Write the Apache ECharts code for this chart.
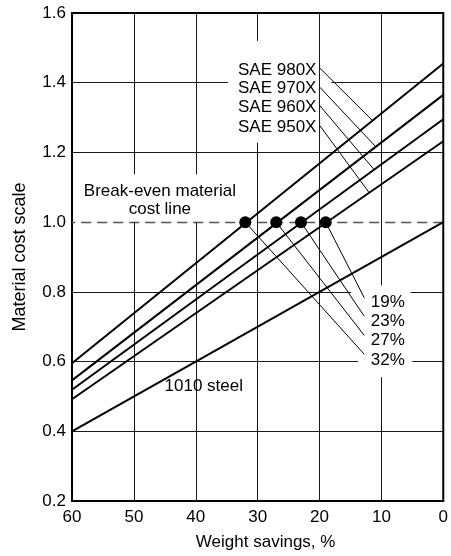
<!DOCTYPE html>
<html><head><meta charset="utf-8">
<script src="https://cdn.jsdelivr.net/npm/echarts@6/dist/echarts.min.js"></script>
<style>html,body{margin:0;padding:0;background:#fff}#c{width:451px;height:556px}</style>
</head><body><div id="c"></div>
<script>
// ---- data ----
const savings = [60, 0];                 // weight savings, % (line endpoints)
const sae980x = [0.595, 1.455];
const sae970x = [0.546, 1.365];
const sae960x = [0.519, 1.295];
const sae950x = [0.492, 1.232];
const steel1010 = [0.40, 1.00];
const breakEvenSavings = [32, 27, 23, 19];
const breakEvenCost = 1.0;
const xTicks = [60, 50, 40, 30, 20, 10, 0];
const yTicks = [0.2, 0.4, 0.6, 0.8, 1.0, 1.2, 1.4, 1.6];

const FONT = '"Liberation Sans", Arial, Helvetica, sans-serif';
const FS = 17;

function pairs(vals) { return savings.map((s, i) => [s, vals[i]]); }
function lineAt(vals, x) {
  const t = (x - savings[0]) / (savings[1] - savings[0]);
  return vals[0] + t * (vals[1] - vals[0]);
}

// grid lines with the gaps seen in the reference (data coords)
const vGrid = [
  { x: 50, segs: [[0.2, 1.0], [1.137, 1.6]] },
  { x: 40, segs: [[0.2, 1.0], [1.137, 1.6]] },
  { x: 30, segs: [[0.2, 1.228], [1.52, 1.6]] },
  { x: 20, segs: [[0.2, 1.6]] },
  { x: 10, segs: [[0.2, 0.555], [0.818, 1.6]] }
];
const hGrid = [
  { y: 1.4, segs: [[60, 34.8], [18.1, 0]] },
  { y: 1.2, segs: [[60, 0]] },
  { y: 0.8, segs: [[60, 14.9], [5.3, 0]] },
  { y: 0.6, segs: [[60, 13.8], [5.0, 0]] },
  { y: 0.4, segs: [[60, 0]] }
];
const gridLines = [];
vGrid.forEach(g => g.segs.forEach(s => gridLines.push([{ coord: [g.x, s[0]] }, { coord: [g.x, s[1]] }])));
hGrid.forEach(g => g.segs.forEach(s => gridLines.push([{ coord: [s[0], g.y] }, { coord: [s[1], g.y] }])));

// leader lines
const saeSeries = [sae980x, sae970x, sae960x, sae950x];
const saeLeaderStartY = [1.442, 1.387, 1.334, 1.277];
const saeLeaderEndX = [11.43, 10.9, 11.17, 11.97];
const leaders = [];
saeSeries.forEach((v, i) => leaders.push([
  { coord: [19.95, saeLeaderStartY[i]] },
  { coord: [saeLeaderEndX[i], lineAt(v, saeLeaderEndX[i])] }
]));
const pctLeaderEndY = [0.621, 0.675, 0.730, 0.783]; // for 32,27,23,19
breakEvenSavings.forEach((s, i) => leaders.push([
  { coord: [s, breakEvenCost] },
  { coord: [12.77, pctLeaderEndY[i]] }
]));

const chart = echarts.init(document.getElementById('c'), null, { renderer: 'canvas' });

function lineSeries(name, vals) {
  return {
    name, type: 'line', data: pairs(vals), symbol: 'none', z: 5,
    lineStyle: { color: '#000', width: 2 }, silent: true, animation: false
  };
}

const option = {
  animation: false,
  backgroundColor: '#fff',
  grid: { left: 72, right: 3, top: 13, bottom: 54, show: true, borderColor: '#000', borderWidth: 2, backgroundColor: 'transparent' },
  xAxis: {
    type: 'value', inverse: true, min: xTicks[xTicks.length - 1], max: xTicks[0], interval: 10,
    axisLine: { show: false }, axisTick: { show: false }, splitLine: { show: false },
    axisLabel: { fontSize: FS, color: '#000', margin: 8, fontFamily: FONT },
    name: 'Weight savings, %', nameLocation: 'middle', nameGap: 33,
    nameTextStyle: { fontSize: FS, color: '#000', fontFamily: FONT, padding: [0, 0, 0, 16] }
  },
  yAxis: {
    type: 'value', min: yTicks[0], max: yTicks[yTicks.length - 1], interval: 0.2,
    axisLine: { show: false }, axisTick: { show: false }, splitLine: { show: false },
    axisLabel: { fontSize: FS, color: '#000', margin: 6, fontFamily: FONT, formatter: v => v.toFixed(1) },
    name: 'Material cost scale', nameLocation: 'middle', nameGap: 43,
    nameTextStyle: { fontSize: 18, color: '#000', fontFamily: FONT }
  },
  series: [
    {
      name: 'grid', type: 'line', data: [], silent: true, z: 1,
      markLine: { silent: true, symbol: ['none', 'none'], label: { show: false }, animation: false,
        lineStyle: { color: '#1a1a1a', width: 1, type: 'solid' }, data: gridLines }
    },
    {
      name: 'leaders', type: 'line', data: [], silent: true, z: 3,
      markLine: { silent: true, symbol: ['none', 'none'], label: { show: false }, animation: false,
        lineStyle: { color: '#000', width: 1, type: 'solid' }, data: leaders }
    },
    lineSeries('SAE 980X', sae980x),
    lineSeries('SAE 970X', sae970x),
    lineSeries('SAE 960X', sae960x),
    lineSeries('SAE 950X', sae950x),
    lineSeries('1010 steel', steel1010),
    {
      name: 'break-even', type: 'scatter', z: 10, symbolSize: 12, silent: true,
      itemStyle: { color: '#000', opacity: 1, borderWidth: 0 },
      data: breakEvenSavings.map(s => [s, breakEvenCost]),
      markLine: { silent: true, symbol: ['none', 'none'], label: { show: false }, animation: false, z: 2,
        lineStyle: { color: '#555', width: 1.3, type: [10, 6] }, data: [{ yAxis: breakEvenCost }] }
    }
  ]
};
chart.setOption(option);

// text annotations, anchored in data coordinates
function px(x, y) { return chart.convertToPixel({ gridIndex: 0 }, [x, y]); }
function txt(text, x, y, align) {
  const p = px(x, y);
  return { type: 'text', x: p[0], y: p[1], z: 20, silent: true,
    style: { text, font: FS + 'px ' + FONT, fill: '#000', align: align, verticalAlign: 'middle' } };
}
const saeNames = ['SAE 980X', 'SAE 970X', 'SAE 960X', 'SAE 950X'];
const saeLabelY = [1.436, 1.384, 1.329, 1.273];
const pctLabels = ['19%', '23%', '27%', '32%'];
const pctLabelY = [0.770, 0.716, 0.661, 0.604];
const graphics = [];
saeNames.forEach((n, i) => graphics.push(txt(n, 20.5, saeLabelY[i], 'right')));
pctLabels.forEach((n, i) => graphics.push(txt(n, 11.7, pctLabelY[i], 'left')));
graphics.push(txt('Break-even material', 45.8, 1.088, 'center'));
graphics.push(txt('cost line', 45.8, 1.037, 'center'));
graphics.push(txt('1010 steel', 38.7, 0.530, 'center'));
chart.setOption({ graphic: graphics });
</script>
</body></html>
